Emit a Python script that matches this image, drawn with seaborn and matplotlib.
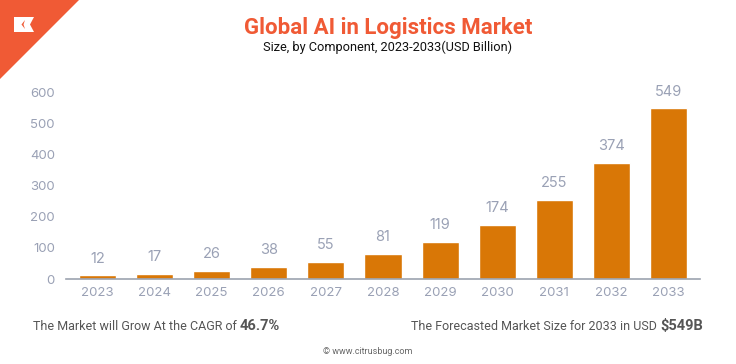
import matplotlib
matplotlib.use("Agg")
import matplotlib.pyplot as plt
import seaborn as sns
import pandas as pd
from matplotlib.patches import Polygon
from matplotlib.text import Annotation

years = ["2023", "2024", "2025", "2026", "2027", "2028", "2029", "2030", "2031", "2032", "2033"]
market_size = [12, 17, 26, 38, 55, 81, 119, 174, 255, 374, 549]
y_ticks = [0, 100, 200, 300, 400, 500, 600]

title = "Global AI in Logistics Market"
subtitle = "Size, by Component, 2023-2033(USD Billion)"
cagr_text = "The Market will Grow At the CAGR of "
cagr_value = "46.7%"
forecast_text = "The Forecasted Market Size for 2033 in USD "
forecast_value = "$549B"
credit = "© www.citrusbug.com"

BAR = "#D97706"
ORANGE = "#F05A35"
TICK = "#9AA1B5"
TEXT = "#555555"

sns.set_style("white")
plt.rcParams["font.family"] = ["Inter", "DejaVu Sans"]
ROBOTO = ["Roboto", "DejaVu Sans"]

W, H = 736, 364
fig = plt.figure(figsize=(W / 100, H / 100), dpi=100)
ax = fig.add_axes([66 / W, 1 - 279 / H, (700 - 66) / W, (279 - 92.5) / H])

df = pd.DataFrame({"year": years, "size": market_size})
sns.barplot(data=df, x="year", y="size", color=BAR, saturation=1, width=0.65, ax=ax)

ax.set_ylim(0, 600)
ax.set_xlim(-0.55, 10.55)
ax.set_yticks(y_ticks)
ax.set_xlabel("")
ax.set_ylabel("")
for s in ["top", "right", "left"]:
    ax.spines[s].set_visible(False)
ax.spines["bottom"].set_color("#9CA3AF")
ax.spines["bottom"].set_linewidth(1.2)
ax.tick_params(axis="both", length=0, colors=TICK, labelsize=9.5)
ax.tick_params(axis="x", pad=6)
ax.tick_params(axis="y", pad=8)

for p, v in zip(ax.patches, market_size):
    ax.annotate(str(v), (p.get_x() + p.get_width() / 2, p.get_height()),
                xytext=(0, 7), textcoords="offset points", ha="center", va="bottom",
                color=TICK, fontsize=10.5, annotation_clip=False)

# corner decoration
tri = Polygon([[0, 1], [79 / W, 1], [0, 1 - 79 / H]], closed=True, transform=fig.transFigure,
              facecolor=ORANGE, edgecolor="none")
fig.patches.append(tri)
logo = Polygon([[14 / W, 1 - 17 / H], [34 / W, 1 - 17 / H], [30 / W, 1 - 24.5 / H],
                [34 / W, 1 - 32 / H], [14 / W, 1 - 32 / H]], closed=True,
               transform=fig.transFigure, facecolor="white", edgecolor="none")
fig.patches.append(logo)
chev = Polygon([[25 / W, 1 - 20 / H], [21.5 / W, 1 - 24.5 / H], [25 / W, 1 - 29 / H],
                [23.5 / W, 1 - 24.5 / H]], closed=True, transform=fig.transFigure,
               facecolor=ORANGE, edgecolor="none")
fig.patches.append(chev)

fig.text(388 / W, 1 - 28 / H, title, ha="center", va="center", fontsize=16,
         fontweight="bold", color=ORANGE, family=ROBOTO)
fig.text(388 / W, 1 - 47 / H, subtitle, ha="center", va="center", fontsize=9.2,
         color="#111111", family=ROBOTO)

t1 = fig.text(33 / W, 1 - 330 / H, cagr_text, ha="left", va="baseline", fontsize=9,
              color=TEXT, family=ROBOTO)
a1 = Annotation(cagr_value, xy=(1, 0), xycoords=t1, ha="left", va="bottom",
                fontsize=10.5, fontweight="bold", color=TEXT, family=ROBOTO)
fig.add_artist(a1)

t2 = fig.text(703 / W, 1 - 330 / H, forecast_value, ha="right", va="baseline",
              fontsize=10.5, fontweight="bold", color=TEXT, family=ROBOTO)
a2 = Annotation(forecast_text, xy=(0, 0), xycoords=t2, ha="right", va="bottom",
                fontsize=9, color=TEXT, family=ROBOTO)
fig.add_artist(a2)

fig.text(368 / W, 1 - 352 / H, credit, ha="center", va="center", fontsize=6.5,
         color="#666666", family=ROBOTO)

fig.savefig("out.png", dpi=100)
